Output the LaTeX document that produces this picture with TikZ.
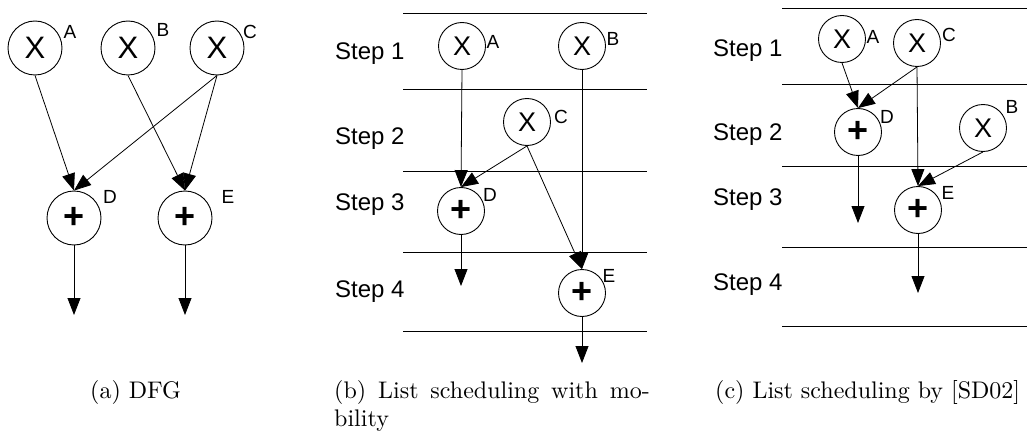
\documentclass[tikz,border=0pt]{standalone}
\usepackage{fontspec}
\usepackage{graphicx}
\newfontfamily\arial{Liberation Sans}
\usetikzlibrary{arrows.meta}

\tikzset{
  op/.style={circle, draw, line width=0.9pt, inner sep=0pt, minimum size=47pt,
    font=\arial\fontsize{27}{27}\selectfont},
  bigop/.style={op, minimum size=54pt, font=\arial\fontsize{31}{31}\selectfont},
  plus/.style={font=\arial\bfseries\fontsize{36}{36}\selectfont},
  tag/.style={inner sep=0pt, font=\arial\fontsize{19}{19}\selectfont},
  steplbl/.style={anchor=base west, inner sep=0pt, font=\arial\fontsize{24}{24}\selectfont},
  stepline/.style={line width=0.9pt},
  flow/.style={line width=0.8pt, -{Triangle[length=17pt,width=13pt]}},
  subcap/.style={anchor=base west, inner sep=0pt}
}

\begin{document}
\begin{tikzpicture}[x=1pt,y=-1pt]
\useasboundingbox (0,0) rectangle (1030,433);

% (a) DFG
\node[bigop] (aA) at (35,48) {X};
\node[bigop] (aB) at (128,48) {X};
\node[bigop] (aC) at (217,48) {X};
\node[bigop,plus] (aD) at (74,218) {+};
\node[bigop,plus] (aE) at (185,218) {+};
\node[tag] (aAl) at (70,32) {A};
\node[tag] (aBl) at (163,30) {B};
\node[tag] (aCl) at (250,32) {C};
\node[tag] (aDl) at (110,197) {D};
\node[tag] (aEl) at (228,197) {E};
\coordinate (aDo) at (74,315);
\coordinate (aEo) at (185,315);

\draw[flow] (aA.south) -- (aD.north);
\draw[flow] (aC.south) -- (aD.north);
\draw[flow] (aB.south) -- (aE.north);
\draw[flow] (aC.south) -- (aE.north);
\draw[flow] (aD.south) -- (aDo);
\draw[flow] (aE.south) -- (aEo);

% (b) list scheduling with mobility
\foreach \y in {13,89,171,252,331}
  \draw[stepline] (403,\y) -- (647,\y);
\foreach \y [count=\i] in {60,145,210,297}
  \node[steplbl] (bs\i) at (335,\y) {Step \i};

\node[op] (bA) at (462,46) {X};
\node[op] (bB) at (582,46) {X};
\node[op] (bC) at (527,122) {X};
\node[op,plus] (bD) at (461,211) {+};
\node[op,plus] (bE) at (582,293) {+};
\node[tag] (bAl) at (493,42) {A};
\node[tag] (bBl) at (613,39) {B};
\node[tag] (bCl) at (561,117) {C};
\node[tag] (bDl) at (490,195) {D};
\node[tag] (bEl) at (609,276) {E};
\coordinate (bDo) at (461,286);
\coordinate (bEo) at (582,363);

\draw[flow] (bA.south) -- (bD.north);
\draw[flow] (bC.south) -- (bD.north);
\draw[flow] (bC.south) -- (bE.north);
\draw[flow] (bB.south) -- (bE.north);
\draw[flow] (bD.south) -- (bDo);
\draw[flow] (bE.south) -- (bEo);

% (c) list scheduling by [SD02]
\foreach \y in {8,84,166,247,326}
  \draw[stepline] (782,\y) -- (1027,\y);
\foreach \y [count=\i] in {57,140,205,290}
  \node[steplbl] (cs\i) at (713,\y) {Step \i};

\node[op] (cA) at (842,39) {X};
\node[op] (cC) at (917,43) {X};
\node[op,plus] (cD) at (858,132) {+};
\node[op] (cB) at (983,128) {X};
\node[op,plus] (cE) at (918,210) {+};
\node[tag] (cAl) at (873,37) {A};
\node[tag] (cCl) at (949,35) {C};
\node[tag] (cDl) at (887,117) {D};
\node[tag] (cBl) at (1012,107) {B};
\node[tag] (cEl) at (948,193) {E};
\coordinate (cDo) at (858,223);
\coordinate (cEo) at (918,293);

\draw[flow] (cA.south) -- (cD.north);
\draw[flow] (cC.south) -- (cD.north);
\draw[flow] (cC.south) -- (cE.north);
\draw[flow] (cB.south) -- (cE.north);
\draw[flow] (cD.south) -- (cDo);
\draw[flow] (cE.south) -- (cEo);

% captions
\node[subcap] (capa) at (90,398) {\scalebox{2.4}{(a) DFG}};
\node[subcap] (capb) at (334,398) {\scalebox{2.4}{\makebox[131.5pt][s]{(b) List scheduling with mo-}}};
\node[subcap] (capb2) at (334,426) {\scalebox{2.4}{bility}};
\node[subcap] (capc) at (715,398) {\scalebox{2.4}{(c) List scheduling by [SD02]}};

\end{tikzpicture}
\end{document}
